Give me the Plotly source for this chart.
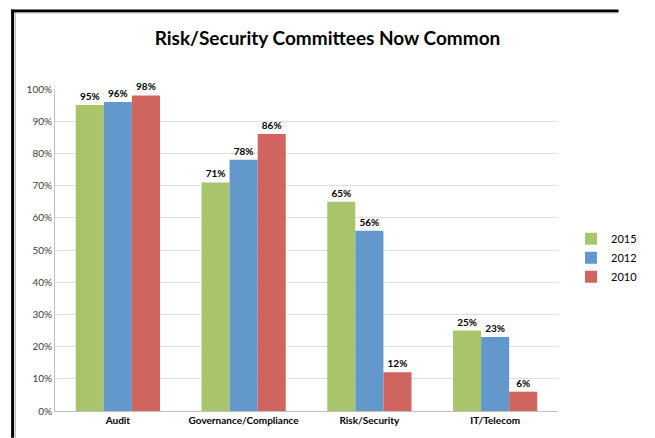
import plotly.graph_objects as go

categories = ["Audit", "Governance/Compliance", "Risk/Security", "IT/Telecom"]
series_names = ["2015", "2012", "2010"]
values_2015 = [95, 71, 65, 25]
values_2012 = [96, 78, 56, 23]
values_2010 = [98, 86, 12, 6]
colors = ["#A8C56B", "#6298CB", "#D0655F"]

W, H = 655, 438
L, R, T, B = 55, 60, 89, 25
pw, ph = W - L - R, H - T - B

fig = go.Figure()
for name, vals, col in zip(series_names, [values_2015, values_2012, values_2010], colors):
    fig.add_trace(go.Bar(
        name=name, x=categories, y=vals, marker=dict(color=col, line=dict(width=0)),
        text=[f"{v}%" for v in vals], textposition="outside", cliponaxis=False,
        textfont=dict(family="Lato", size=10, color="#000000"),
        texttemplate="<b>%{text}</b>",
    ))

def px_x(x):
    return (x - L) / pw

def px_y(y):
    return 1 - (y - T) / ph

shapes = [
    dict(type="line", xref="paper", yref="paper", x0=px_x(9.5), x1=px_x(9.5), y0=px_y(9), y1=px_y(440), line=dict(color="black", width=3)),
    dict(type="line", xref="paper", yref="paper", x0=px_x(8), x1=px_x(660), y0=px_y(10.5), y1=px_y(10.5), line=dict(color="black", width=3)),
    dict(type="line", xref="paper", yref="paper", x0=px_x(12.5), x1=px_x(12.5), y0=px_y(12.5), y1=px_y(440), line=dict(color="#BBBBBB", width=1)),
    dict(type="line", xref="paper", yref="paper", x0=px_x(12.5), x1=px_x(660), y0=px_y(12.5), y1=px_y(12.5), line=dict(color="#BBBBBB", width=1)),
]

fig.update_layout(
    width=W, height=H,
    margin=dict(l=L, r=R, t=T, b=B),
    paper_bgcolor="white", plot_bgcolor="white",
    barmode="group", bargap=0.33, bargroupgap=0,
    title=dict(text="<b>Risk/Security Committees Now Common</b>", x=0.5, xanchor="center",
               y=1 - 38 / H, yanchor="middle",
               font=dict(family="Lato", size=19, color="#000000")),
    font=dict(family="Lato", size=10, color="#333333"),
    legend=dict(x=px_x(609), y=px_y(225), xanchor="left", yanchor="top",
                font=dict(family="Lato", size=11, color="#000000"),
                tracegroupgap=6, itemwidth=30, bgcolor="rgba(0,0,0,0)"),
    showlegend=True,
    shapes=shapes,
    xaxis=dict(showgrid=False, showline=True, linecolor="#BFBFBF", linewidth=1,
               ticks="", tickfont=dict(family="Lato", size=10, color="#000000"),
               tickprefix="<b>", ticksuffix="</b>"),
    yaxis=dict(range=[0, 100], dtick=10, ticksuffix="%", showgrid=True, gridcolor="#E0E0E0",
               gridwidth=1, showline=True, linecolor="#BFBFBF", linewidth=1, zeroline=False,
               ticks="", tickfont=dict(family="Lato", size=10, color="#404040")),
)

fig.write_html("out.html", config={"displayModeBar": False},
               post_script="document.body.style.margin='0';document.body.style.overflow='hidden';")
